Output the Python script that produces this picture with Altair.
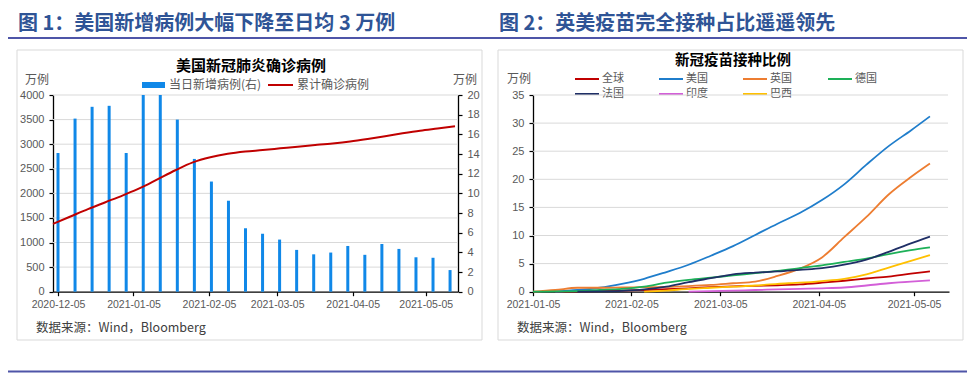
import altair as alt
import pandas as pd

# ---------------- Figure 1 data (weekly samples) ----------------
case_start = "2020-12-05"
n_weeks = 24
new_cases = [14.1, 17.6, 18.8, 18.9, 14.1, 21.0, 20.5, 17.5, 13.5, 11.2, 9.25, 6.45,
             5.9, 5.3, 4.25, 3.8, 3.98, 4.65, 3.75, 4.85, 4.35, 3.5, 3.45, 2.2]
cum_cases = [1380, 1530, 1680, 1820, 1960, 2110, 2290, 2470, 2630, 2735, 2805, 2850,
             2880, 2915, 2950, 2982, 3015, 3055, 3105, 3160, 3220, 3275, 3320, 3365]

# ---------------- Figure 2 data ----------------
vac_dates = ["2021-01-05", "2021-01-12", "2021-01-19", "2021-01-26", "2021-02-02",
             "2021-02-09", "2021-02-16", "2021-02-23", "2021-03-02", "2021-03-09",
             "2021-03-16", "2021-03-23", "2021-03-30", "2021-04-06", "2021-04-13",
             "2021-04-20", "2021-04-27", "2021-05-04", "2021-05-10"]
countries = ["全球", "美国", "英国", "德国", "法国", "印度", "巴西"]
country_colors = ["#C00000", "#1F7DCB", "#ED7D31", "#1DB058", "#1F2F66", "#D35FD8", "#FFC000"]
world = [None, 0.02, 0.05, 0.1, 0.2, 0.3, 0.45, 0.6, 0.8, 0.95, 1.05, 1.15, 1.3, 1.6, 1.95, 2.35, 2.7, 3.2, 3.6]
usa = [None, 0.0, 0.3, 0.7, 1.4, 2.3, 3.5, 4.8, 6.4, 8.1, 10.1, 12.1, 14.0, 16.3, 19.1, 22.6, 25.9, 28.7, 31.2]
uk = [0.0, 0.3, 0.7, 0.7, 0.75, 0.8, 0.85, 1.0, 1.2, 1.5, 1.8, 2.8, 4.1, 6.1, 9.7, 13.3, 17.3, 20.4, 22.8]
germany = [0.0, 0.05, 0.1, 0.3, 0.5, 0.9, 1.6, 2.1, 2.5, 2.9, 3.3, 3.7, 4.2, 4.7, 5.3, 5.9, 6.7, 7.4, 7.9]
france = [None, None, 0.0, 0.05, 0.15, 0.4, 0.9, 1.7, 2.4, 3.1, 3.4, 3.6, 3.9, 4.2, 4.8, 5.7, 7.1, 8.6, 9.8]
india = [None, None, None, None, None, None, None, 0.0, 0.1, 0.2, 0.3, 0.4, 0.5, 0.6, 0.75, 1.1, 1.5, 1.8, 2.0]
brazil = [None, None, None, None, None, 0.0, 0.2, 0.5, 0.7, 0.9, 1.1, 1.4, 1.6, 1.9, 2.3, 3.1, 4.3, 5.5, 6.5]
series = [world, usa, uk, germany, france, india, brazil]

left_ticks = list(range(500, 4001, 500))
right_ticks = list(range(5, 36, 5))

# ---------------- tables ----------------
df1 = pd.DataFrame({
    "date": pd.date_range(case_start, periods=n_weeks, freq="7D"),
    "new": new_cases,
    "cum": cum_cases,
})
rows = []
for name, vals in zip(countries, series):
    for d, v in zip(vac_dates, vals):
        if v is not None:
            rows.append({"date": pd.Timestamp(d), "country": name, "value": v})
df2 = pd.DataFrame(rows)
grid1 = pd.DataFrame({"v": left_ticks})
grid2 = pd.DataFrame({"v": right_ticks})

# ---------------- layout helpers ----------------
W, H = 959, 366
def px(v):
    return v - 8

def D(y, m, d):
    return alt.DateTime(year=y, month=m, date=d)

CJK = "Noto Sans CJK SC"
LAT = "Liberation Sans"
GRAY = "#595959"
HEAD = "#2F5496"
LINEC = "#4E55A8"
dummy = alt.Data(values=[{}])

def txt(s, x, y, size=12, color=GRAY, weight="normal", align="left"):
    return alt.Chart(dummy).mark_text(
        text=s, align=align, baseline="middle", fontSize=size, font=CJK,
        fontWeight=weight, color=color
    ).encode(x=alt.value(px(x)), y=alt.value(px(y)))

def hline(x1, x2, y, color, width):
    return alt.Chart(dummy).mark_rule(color=color, strokeWidth=width).encode(
        x=alt.value(px(x1)), x2=alt.value(px(x2)), y=alt.value(px(y)))

def box(x1, y1, x2, y2):
    return alt.Chart(dummy).mark_rect(fillOpacity=0, stroke="#D9D9D9", strokeWidth=1).encode(
        x=alt.value(px(x1)), x2=alt.value(px(x2)), y=alt.value(px(y1)), y2=alt.value(px(y2)))

Y0, Y1 = 291.7, 95.0
axis_common = dict(labelFont=LAT, labelColor=GRAY, tickColor="#000000", domainColor="#000000",
                   domainWidth=1.3, tickWidth=1.2, tickSize=4, grid=False, title=None,
                   labelOverlap=False)

# ---------------- scales ----------------
x1 = alt.Scale(domain=[D(2020, 12, 5), D(2021, 5, 16)], range=[px(53), px(457.5)], nice=False)
y1L = alt.Scale(domain=[0, 4000], range=[px(Y0), px(Y1)], nice=False)
y1R = alt.Scale(domain=[0, 20], range=[px(Y0), px(Y1)], nice=False, clamp=True)
x2 = alt.Scale(domain=[D(2021, 1, 5), D(2021, 5, 16)], range=[px(533), px(949)], nice=False)
y2 = alt.Scale(domain=[0, 35], range=[px(Y0), px(Y1)], nice=False)

# ---------------- left chart ----------------
grid_left = alt.Chart(grid1).mark_rule(color="#D9D9D9", strokeWidth=1).encode(
    y=alt.Y("v:Q", scale=y1L, axis=None),
    x=alt.value(px(53)), x2=alt.value(px(458)))

bars = alt.Chart(df1).mark_bar(size=3, color="#1088E8").encode(
    x=alt.X("date:T", scale=x1, axis=alt.Axis(
        orient="bottom", offset=px(Y0) - H, format="%Y-%m-%d", labelFontSize=10.5,
        labelPadding=4, labelFlush=False,
        values=[D(2020, 12, 5), D(2021, 1, 5), D(2021, 2, 5), D(2021, 3, 5), D(2021, 4, 5), D(2021, 5, 5)],
        **axis_common)),
    y=alt.Y("new:Q", scale=y1R, axis=alt.Axis(
        orient="right", offset=px(458) - W, values=list(range(0, 21, 2)), format="d",
        labelFontSize=11, labelPadding=5, **axis_common)))

cum_line = alt.Chart(df1).mark_line(color="#C00000", strokeWidth=2, interpolate="monotone").encode(
    x=alt.X("date:T", scale=x1, axis=None),
    y=alt.Y("cum:Q", scale=y1L, axis=alt.Axis(
        orient="left", offset=-px(53), values=list(range(0, 4001, 500)), format="d",
        labelFontSize=11, labelPadding=5, **axis_common)))

# ---------------- right chart ----------------
grid_right = alt.Chart(grid2).mark_rule(color="#D9D9D9", strokeWidth=1).encode(
    y=alt.Y("v:Q", scale=y2, axis=None),
    x=alt.value(px(533)), x2=alt.value(px(948)))

vac_lines = alt.Chart(df2).mark_line(strokeWidth=1.8, interpolate="monotone").encode(
    x=alt.X("date:T", scale=x2, axis=alt.Axis(
        orient="bottom", offset=px(Y0) - H, format="%Y-%m-%d", labelFontSize=10.5,
        labelPadding=4, labelFlush=False,
        values=[D(2021, 1, 5), D(2021, 2, 5), D(2021, 3, 5), D(2021, 4, 5), D(2021, 5, 5)],
        **axis_common)),
    y=alt.Y("value:Q", scale=y2, axis=alt.Axis(
        orient="left", offset=-px(533), values=list(range(0, 36, 5)), format="d",
        labelFontSize=11, labelPadding=5, **axis_common)),
    color=alt.Color("country:N", scale=alt.Scale(domain=countries, range=country_colors), legend=None),
)

# ---------------- decorations ----------------
decor = [
    txt("图 1：美国新增病例大幅下降至日均 3 万例", 18, 24, size=20, color=HEAD, weight="bold"),
    txt("图 2：英美疫苗完全接种占比遥遥领先", 499, 24, size=20, color=HEAD, weight="bold"),
    hline(7, 975, 38, LINEC, 2),
    hline(7, 975, 371.5, LINEC, 2),
    box(17, 50, 482, 340),
    box(498, 50, 963, 340),
    txt("美国新冠肺炎确诊病例", 251, 66, size=15, color="#000000", weight="bold", align="center"),
    txt("新冠疫苗接种比例", 733, 60.5, size=14.5, color="#000000", weight="bold", align="center"),
    txt("万例", 25, 80),
    txt("万例", 453, 80),
    txt("万例", 507, 79),
    alt.Chart(dummy).mark_rect(color="#1088E8").encode(
        x=alt.value(px(142)), x2=alt.value(px(165)), y=alt.value(px(82)), y2=alt.value(px(88))),
    txt("当日新增病例(右)", 169, 85),
    hline(268, 293, 85, "#C00000", 2),
    txt("累计确诊病例", 297, 85),
    txt("数据来源：Wind，Bloomberg", 36, 328, size=12.5, color="#404040"),
    txt("数据来源：Wind，Bloomberg", 517, 328, size=12.5, color="#404040"),
]
leg_x = [575, 659, 743, 828]
leg_y = [79, 94]
for i, (name, col) in enumerate(zip(countries, country_colors)):
    cx = leg_x[i % 4]
    cy = leg_y[i // 4]
    decor.append(hline(cx, cx + 24, cy, col, 2))
    decor.append(txt(name, cx + 27, cy, size=11))

chart = alt.layer(
    *decor, grid_left, grid_right, bars, cum_line, vac_lines
).resolve_scale(
    x="independent", y="independent", color="independent"
).resolve_axis(
    x="independent", y="independent"
).properties(
    width=W, height=H, padding=0,
    autosize=alt.AutoSizeParams(type="none"),
    background="white",
).configure_view(strokeWidth=0)

chart.save("out.html", embed_options={"renderer": "svg", "actions": False})
